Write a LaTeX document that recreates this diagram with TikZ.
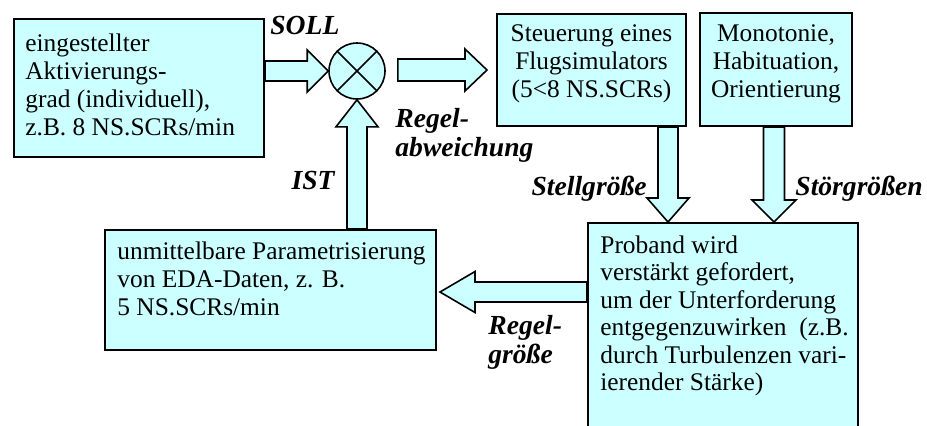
\documentclass[tikz,border=0pt]{standalone}
\usepackage{fontspec}
\setmainfont{Liberation Serif}
\usetikzlibrary{calc}
\definecolor{boxfill}{HTML}{CCFFFF}
\tikzset{
  blk/.style={draw=black, line width=1pt, fill=boxfill, rectangle, inner sep=0pt},
  barrow/.style={draw=black, line width=0.8pt, fill=boxfill, line join=miter},
  boxtxt/.style={font=\fontsize{12.7}{14}\selectfont, inner sep=0pt, align=left},
  ctrtxt/.style={font=\fontsize{12.7}{14}\selectfont, inner sep=0pt, align=center},
  lbl/.style={font=\fontsize{13.8}{14.5}\selectfont\bfseries\itshape, inner sep=0pt, align=left},
}
\newcommand{\blockarrow}[5]{%
  \coordinate (ba-s) at (#1);
  \coordinate (ba-e) at (#2);
  \coordinate (ba-h) at ($(ba-e)!#5!(ba-s)$);
  \draw[barrow] ($(ba-s)!#3!90:(ba-e)$) -- ($(ba-h)!#3!90:(ba-e)$) -- ($(ba-h)!#4!90:(ba-e)$) -- (ba-e) -- ($(ba-h)!#4!-90:(ba-e)$) -- ($(ba-h)!#3!-90:(ba-e)$) -- ($(ba-s)!#3!-90:(ba-e)$) -- cycle;}
\begin{document}
\begin{tikzpicture}[x=0.5pt, y=-0.5pt]
\useasboundingbox (0,0) rectangle (927,425);
% boxes
\node[blk, minimum width=125pt, minimum height=69pt] (soll) at (139,88) {};
\node[blk, circle, minimum size=28pt, line width=0.8pt] (circ) at (357,71) {};
\draw[line width=0.8pt] (circ.north west) -- (circ.south east) (circ.north east) -- (circ.south west);
\node[blk, minimum width=94.5pt, minimum height=56pt] (steu) at (591.5,70) {};
\node[blk, minimum width=76pt, minimum height=56.5pt] (mono) at (776,69.5) {};
\node[blk, minimum width=135pt, minimum height=106pt] (prob) at (723,329) {};
\node[blk, minimum width=165.5pt, minimum height=60pt] (unm) at (270.5,290) {};
% arrows
\coordinate (sollA) at (soll.east |- circ);
\blockarrow{sollA}{circ.west}{5pt}{10.5pt}{10.5pt}
\coordinate (raA) at ($(circ.east)+(12,-1)$);
\coordinate (raB) at ($(steu.west |- raA)+(-9,0)$);
\blockarrow{raA}{raB}{5.5pt}{10.5pt}{11pt}
\coordinate (istA) at (unm.north -| circ);
\blockarrow{istA}{circ.south}{5pt}{10.5pt}{13.5pt}
\coordinate (stA) at ($(steu.south east)+(-19,0)$);
\coordinate (stB) at (stA |- prob.north);
\blockarrow{stA}{stB}{5pt}{10.5pt}{12pt}
\coordinate (sgA) at ($(mono.south)+(-2,0)$);
\coordinate (sgB) at (sgA |- prob.north);
\blockarrow{sgA}{sgB}{5.25pt}{11pt}{11pt}
\coordinate (rgA) at (prob.west |- 0,292);
\coordinate (rgB) at (440,292);
\blockarrow{rgA}{rgB}{5pt}{10.25pt}{17.5pt}
% box texts (base anchor = baseline of the last line)
\node[boxtxt, anchor=base west] (t1) at (25,135) {eingestellter\\Aktivierungs-\\grad (individuell),\\z.B. 8 NS.SCRs/min};
\node[ctrtxt, anchor=base] (t2) at (steu |- 0,97) {Steuerung eines\\Flugsimulators\\(5<8 NS.SCRs)};
\node[ctrtxt, anchor=base] (t3) at (mono |- 0,97) {Monotonie,\\Habituation,\\Orientierung};
\node[boxtxt, anchor=base west] (t4) at (117,315) {unmittelbare Parametrisierung\\von EDA-Daten, z. B.\\5 NS.SCRs/min};
\node[boxtxt, anchor=base west, font=\fontsize{12.7}{13.75}\selectfont] (t5) at (600,390.5) {Proband wird\\verstärkt gefordert,\\um der Unterforderung\\entgegenzuwirken\ \ (z.B.\\durch Turbulenzen vari-\\ierender Stärke)};
% labels
\node[lbl, anchor=base west] (l1) at (270,34) {SOLL};
\node[lbl, anchor=base west] (l2) at (395,156) {Regel-\\abweichung};
\node[lbl, anchor=base east] (l3) at (335,189) {IST};
\node[lbl, anchor=base east] (l4) at (647,195) {Stellgröße};
\node[lbl, anchor=base west] (l5) at (795,195) {Störgrößen};
\node[lbl, anchor=base west] (l6) at (488,363) {Regel-\\größe};
\end{tikzpicture}
\end{document}
